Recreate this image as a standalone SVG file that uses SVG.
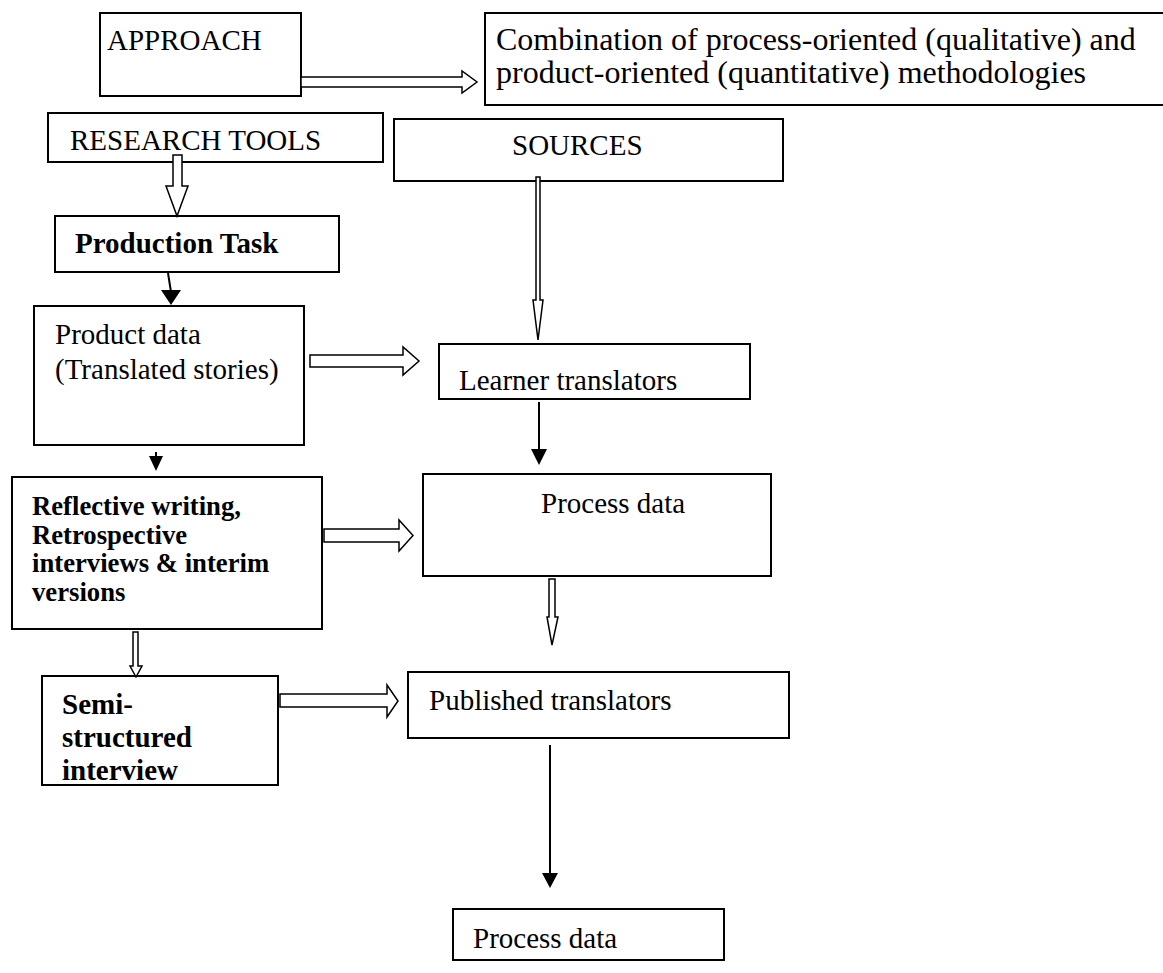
<svg xmlns="http://www.w3.org/2000/svg" width="1163" height="973" viewBox="0 0 1163 973">
<style>
.box{fill:#fff;stroke:#000;stroke-width:2}
.t{font-family:"Liberation Serif","Times New Roman",serif;font-size:29px;fill:#000}
.b{font-weight:bold}
.hollow{fill:#fff;stroke:#000;stroke-width:1.5;stroke-linejoin:miter}
.solid{stroke:#000;stroke-width:2;fill:none}
.head{fill:#000;stroke:none}
</style>
<rect width="1163" height="973" fill="#fff"/>
<g id="approach"><rect class="box" x="100" y="13" width="201" height="83"/><text class="t" x="107" y="50">APPROACH</text></g>
<g id="combination"><rect class="box" x="485" y="13" width="690" height="92"/><text class="t" x="496" y="50" style="font-size:32px">Combination of process-oriented (qualitative) and</text><text class="t" x="496" y="83" style="font-size:32px">product-oriented (quantitative) methodologies</text></g>
<g id="research-tools"><rect class="box" x="48" y="113" width="335" height="49"/><text class="t" x="70" y="150">RESEARCH TOOLS</text></g>
<g id="sources"><rect class="box" x="394" y="119" width="389" height="62"/><text class="t" x="512" y="155">SOURCES</text></g>
<g id="production-task"><rect class="box" x="55" y="216" width="284" height="56"/><text class="t b" x="75" y="253">Production Task</text></g>
<g id="product-data"><rect class="box" x="34" y="306" width="270" height="139"/><text class="t" x="55" y="344">Product data</text><text class="t" x="55" y="379">(Translated stories)</text></g>
<g id="learner-translators"><rect class="box" x="439" y="344" width="311" height="55"/><text class="t" x="459" y="390">Learner translators</text></g>
<g id="reflective"><rect class="box" x="12" y="477" width="310" height="152"/><text class="t b" style="font-size:26.7px" x="32" y="515">Reflective writing,</text><text class="t b" style="font-size:26.7px" x="32" y="544">Retrospective</text><text class="t b" style="font-size:26.7px" x="32" y="572">interviews &amp; interim</text><text class="t b" style="font-size:26.7px" x="32" y="601">versions</text></g>
<g id="process-data-1"><rect class="box" x="423" y="474" width="348" height="102"/><text class="t" x="541" y="513">Process data</text></g>
<g id="semi-structured"><rect class="box" x="42" y="676" width="236" height="109"/><text class="t b" x="62" y="714">Semi-</text><text class="t b" x="62" y="747">structured</text><text class="t b" x="62" y="780">interview</text></g>
<g id="published-translators"><rect class="box" x="408" y="672" width="381" height="66"/><text class="t" x="429" y="710">Published translators</text></g>
<g id="process-data-2"><rect class="box" x="453" y="909" width="271" height="51"/><text class="t" x="473" y="948">Process data</text></g>
<g id="connectors">
<polygon class="hollow" points="301,77 462,77 462,71 477,82 462,93 462,87 301,87"/>
<polygon class="hollow" points="173,155 182,155 182,186 188,186 177,216 166,186 173,186"/>
<polygon class="hollow" points="536,177 540,177 540,300 543,300 538,340 533,300 536,300"/>
<line class="solid" x1="168" y1="273" x2="171" y2="292"/><polygon class="head" points="161,290 181,290 171,305"/>
<polygon class="hollow" points="310,355 403,355 403,347 419,361 403,375 403,367 310,367"/>
<line class="solid" x1="156" y1="452" x2="156" y2="458"/><polygon class="head" points="149,456 163,456 156,471"/>
<line class="solid" x1="539" y1="402" x2="539" y2="451"/><polygon class="head" points="531,449 547,449 539,465"/>
<polygon class="hollow" points="324,529 399,529 399,520 413,535.5 399,551 399,542 324,542"/>
<polygon class="hollow" points="549,579 555,579 555,617 558,617 552,645 547,617 549,617"/>
<polygon class="hollow" points="133,632 138,632 138,666 142,666 136,677 130,666 133,666"/>
<polygon class="hollow" points="280,694 387,694 387,685 398,701 387,717 387,707 280,707"/>
<line class="solid" x1="550" y1="745" x2="550" y2="875"/><polygon class="head" points="542,873 558,873 550,888"/>
</g>
</svg>
